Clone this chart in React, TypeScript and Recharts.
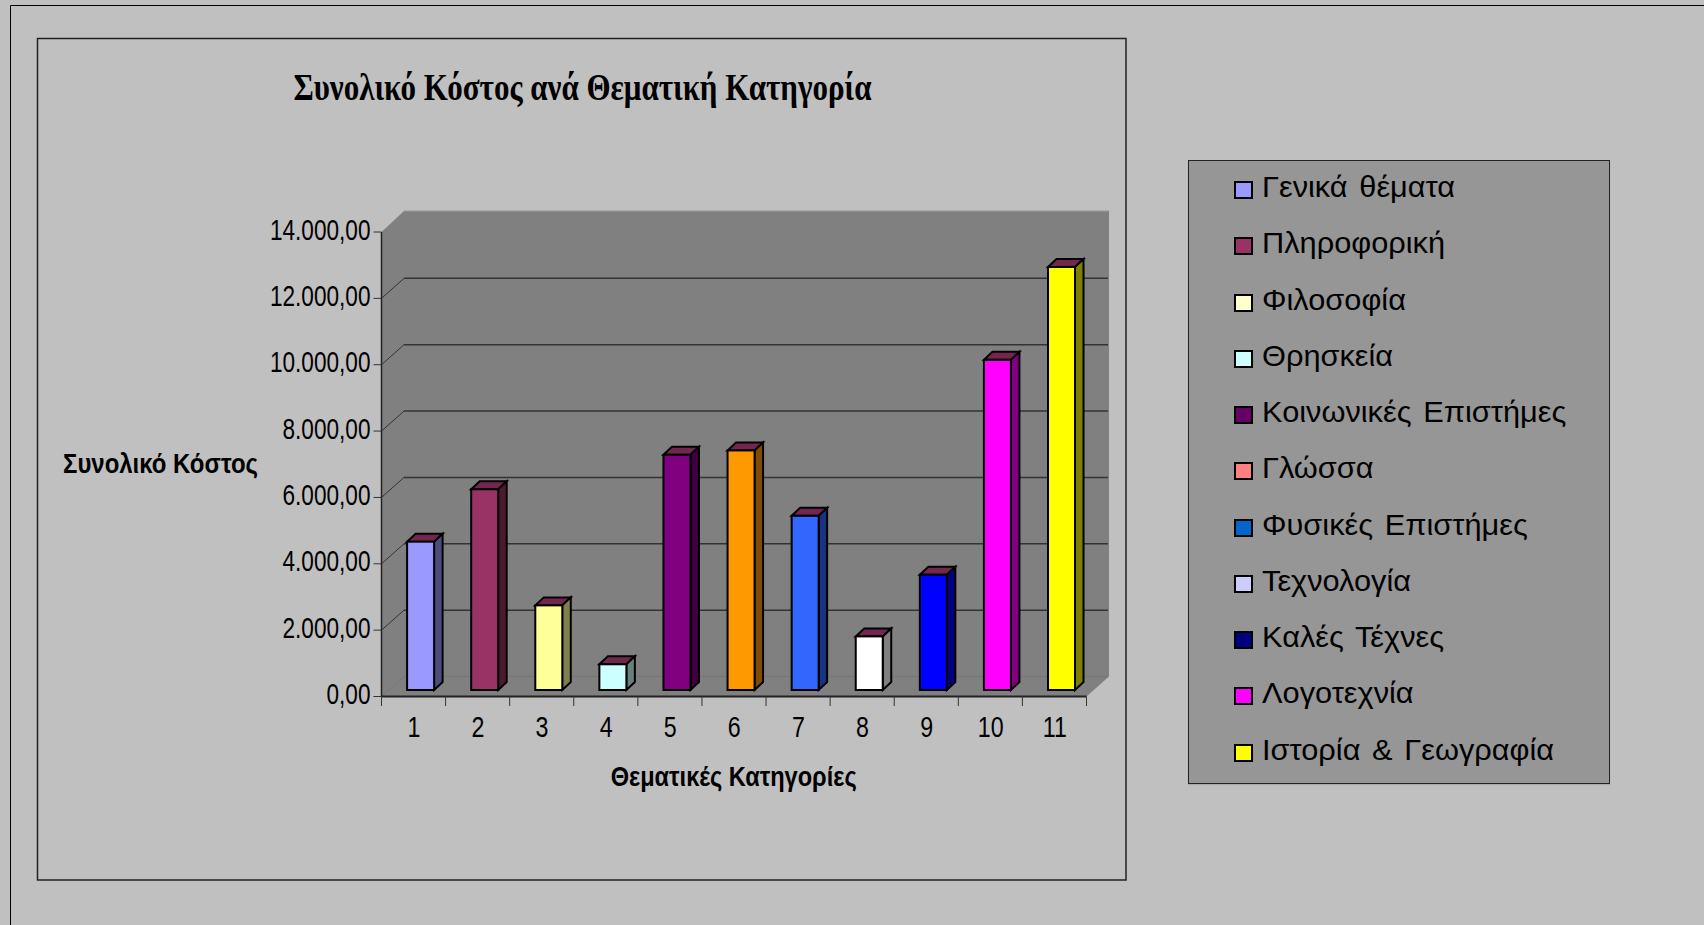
import React from 'react';
import { BarChart, Bar, XAxis, YAxis, CartesianGrid, Legend } from 'recharts';

const categories = ['1', '2', '3', '4', '5', '6', '7', '8', '9', '10', '11'];
const totalCosts = [4470, 6050, 2550, 775, 7090, 7220, 5250, 1615, 3475, 9950, 12750];
const barFills = ['#9999FF', '#993366', '#FFFF99', '#CCFFFF', '#800080', '#FF9900', '#3366FF', '#FFFFFF', '#0000FF', '#FF00FF', '#FFFF00'];
const barSides = ['#4D4D80', '#4D1A33', '#80804D', '#668080', '#400040', '#804D00', '#1A3380', '#808080', '#000080', '#800080', '#808000'];

const themeNames = [
  'Γενικά θέματα',
  'Πληροφορική',
  'Φιλοσοφία',
  'Θρησκεία',
  'Κοινωνικές Επιστήμες',
  'Γλώσσα',
  'Φυσικές Επιστήμες',
  'Τεχνολογία',
  'Καλές Τέχνες',
  'Λογοτεχνία',
  'Ιστορία & Γεωγραφία',
];
const legendFills = ['#9999FF', '#993366', '#FFFFCC', '#CCFFFF', '#660066', '#FF8080', '#0066CC', '#CCCCFF', '#000080', '#FF00FF', '#FFFF00'];

const yTicks = [0, 2000, 4000, 6000, 8000, 10000, 12000, 14000];
const yTickLabels = ['0,00', '2.000,00', '4.000,00', '6.000,00', '8.000,00', '10.000,00', '12.000,00', '14.000,00'];

const chartData = categories.map((name, i) => ({ name, cost: totalCosts[i] }));

// plot rectangle and the fake 3D depth of the old spreadsheet chart
const WIDTH = 1704;
const HEIGHT = 925;
const LEFT = 381.5;
const TOP = 232;
const RIGHT = 1086.5;
const BOTTOM = 696.5;
const DEPTH_X = 22.5;
const DEPTH_Y = 20;
const BAND = (RIGHT - LEFT) / categories.length;
const SANS = '"Liberation Sans", Arial, sans-serif';
const SERIF = '"Liberation Serif", "Times New Roman", serif';

const Bar3D = (props: any) => {
  const { index, width: w, height: h } = props;
  const x = props.x + 6.6;
  const y = props.y - 6.5;
  const dx = 8.5;
  const dy = 8;
  const line = { stroke: '#000', strokeWidth: 2, strokeLinejoin: 'miter' as const };
  return (
    <g>
      <polygon points={`${x},${y} ${x + dx},${y - dy} ${x + w + dx},${y - dy} ${x + w},${y}`} fill="#74264F" {...line} />
      <polygon points={`${x + w},${y} ${x + w + dx},${y - dy} ${x + w + dx},${y + h - dy} ${x + w},${y + h}`} fill={barSides[index]} {...line} />
      <rect x={x} y={y} width={w} height={h} fill={barFills[index]} {...line} />
    </g>
  );
};

const GridLine = (props: any) => {
  const { y1, key } = props;
  if (y1 <= TOP + 1) return <g key={key} />;
  const isFloor = y1 >= BOTTOM - 1;
  const stroke = isFloor ? '#777777' : '#333333';
  return (
    <g key={key}>
      <line x1={LEFT} y1={y1} x2={LEFT + DEPTH_X} y2={y1 - DEPTH_Y} stroke={stroke} strokeWidth={1} />
      <line x1={LEFT + DEPTH_X} y1={y1 - DEPTH_Y} x2={RIGHT + DEPTH_X - 1} y2={y1 - DEPTH_Y} stroke={stroke} strokeWidth={1.5} />
    </g>
  );
};

const YTick = (props: any) => {
  const { y, index } = props;
  return (
    <g>
      <line x1={LEFT - 8} y1={y} x2={LEFT} y2={y} stroke="#333" strokeWidth={1} />
      <text
        transform={`translate(${LEFT - 11},${y + 7.5}) scale(0.78,1)`}
        x={0}
        y={0}
        textAnchor="end"
        fontFamily={SANS}
        fontSize={29}
        fill="#000"
      >
        {yTickLabels[index]}
      </text>
    </g>
  );
};

const XTick = (props: any) => {
  const { x, index, payload } = props;
  const left = x - BAND / 2;
  return (
    <g>
      <line x1={left} y1={BOTTOM} x2={left} y2={BOTTOM + 9.5} stroke="#333" strokeWidth={1} />
      {index === categories.length - 1 && (
        <line x1={left + BAND} y1={BOTTOM} x2={left + BAND} y2={BOTTOM + 9.5} stroke="#333" strokeWidth={1} />
      )}
      <text transform={`translate(${x + 0.3},737) scale(0.8,1)`} x={0} y={0} textAnchor="middle" fontFamily={SANS} fontSize={29} fill="#000">
        {payload.value}
      </text>
    </g>
  );
};

const ThemeLegend = () => (
  <div
    style={{
      boxSizing: 'border-box',
      width: 422,
      height: 624,
      background: '#969696',
      border: '1px solid #222',
      boxShadow: '0 1px 1px #aaa',
      position: 'relative',
    }}
  >
    {themeNames.map((name, i) => (
      <div
        key={name}
        style={{
          position: 'absolute',
          left: 45,
          top: 29 + i * 56.25 - 20,
          height: 40,
          display: 'flex',
          alignItems: 'center',
          whiteSpace: 'nowrap',
        }}
      >
        <span style={{ boxSizing: 'border-box', display: 'inline-block', width: 19, height: 18, background: legendFills[i], border: '2px solid #000' }} />
        <span
          style={{
            marginLeft: 9,
            fontFamily: SANS,
            fontSize: 29,
            lineHeight: '40px',
            color: '#000',
            marginTop: -6,
            wordSpacing: 3,
            transform: 'scaleX(1.06)',
            transformOrigin: 'left center',
          }}
        >
          {name}
        </span>
      </div>
    ))}
  </div>
);

export default function App() {
  return (
    <div style={{ position: 'absolute', left: 0, top: 0, width: WIDTH, height: HEIGHT, background: '#C0C0C0', overflow: 'hidden' }}>
      {/* page frames and back wall sit behind the transparent chart svg */}
      <svg width={WIDTH} height={HEIGHT} style={{ position: 'absolute', left: 0, top: 0 }}>
        <path d={`M10.5 ${HEIGHT} V5.5 H${WIDTH}`} fill="none" stroke="#000" strokeWidth={1} />
        <rect x={37.5} y={38.5} width={1088.5} height={841.5} fill="none" stroke="#222" strokeWidth={1.5} />
        <polygon
          points={`${LEFT},${TOP} ${LEFT + DEPTH_X},${TOP - 21} ${RIGHT + DEPTH_X},${TOP - 21} ${RIGHT + DEPTH_X},${BOTTOM - DEPTH_Y} ${RIGHT},${BOTTOM} ${LEFT},${BOTTOM}`}
          fill="#808080"
        />
        <line x1={LEFT + DEPTH_X} y1={TOP - 21} x2={RIGHT + DEPTH_X} y2={TOP - 21} stroke="#999" strokeWidth={1} />
      </svg>
      <div style={{ position: 'absolute', left: 0, top: 0 }}>
        <BarChart
          width={WIDTH}
          height={HEIGHT}
          data={chartData}
          margin={{ top: TOP, right: WIDTH - RIGHT, bottom: HEIGHT - BOTTOM - 40, left: LEFT - 80 }}
        >
          <CartesianGrid vertical={false} horizontal={GridLine} />
          <XAxis
            dataKey="name"
            height={40}
            tick={XTick}
            tickLine={false}
            interval={0}
            axisLine={{ stroke: '#222', strokeWidth: 2 }}
            label={() => (
              <text x={610.7} y={786} textLength={246} lengthAdjust="spacingAndGlyphs" fontFamily={SANS} fontWeight="bold" fontSize={28} fill="#000">
                Θεματικές Κατηγορίες
              </text>
            )}
          />
          <YAxis
            width={80}
            domain={[0, 14000]}
            ticks={yTicks}
            tick={YTick}
            tickLine={false}
            interval={0}
            axisLine={{ stroke: '#222', strokeWidth: 1.5 }}
            label={() => (
              <text x={63} y={473} textLength={195} lengthAdjust="spacingAndGlyphs" fontFamily={SANS} fontWeight="bold" fontSize={28} fill="#000">
                Συνολικό Κόστος
              </text>
            )}
          />
          <Legend
            layout="horizontal"
            align="center"
            verticalAlign="middle"
            content={<ThemeLegend />}
            wrapperStyle={{ position: 'absolute', left: 1188, top: 160, width: 422, height: 624 }}
          />
          <Bar dataKey="cost" barSize={27} shape={Bar3D} isAnimationActive={false} />
          <text x={293.5} y={100} textLength={578} lengthAdjust="spacingAndGlyphs" fontFamily={SERIF} fontWeight="bold" fontSize={38} fill="#000">
            Συνολικό Κόστος ανά Θεματική Κατηγορία
          </text>
        </BarChart>
      </div>
    </div>
  );
}
